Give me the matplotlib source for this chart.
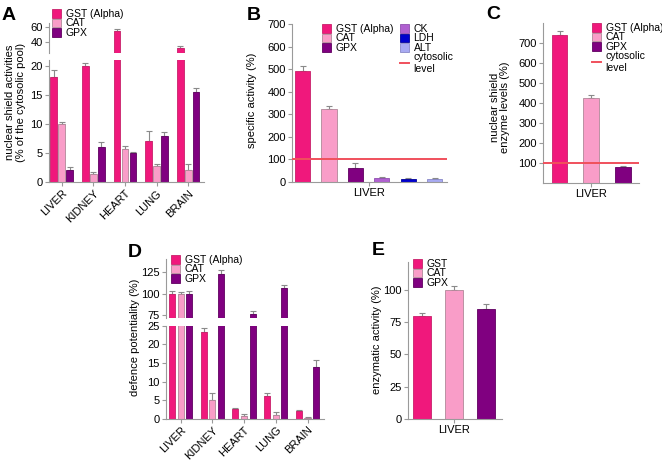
import numpy as np
import matplotlib
matplotlib.use('Agg')
import matplotlib.pyplot as plt
from matplotlib.patches import Patch
from matplotlib.lines import Line2D

plt.rcParams['font.family'] = ['Liberation Sans', 'DejaVu Sans']

# ---- data ----
organs = ['LIVER', 'KIDNEY', 'HEART', 'LUNG', 'BRAIN']
enzymes = ['GST (Alpha)', 'CAT', 'GPX']

# panel A: nuclear shield activities (% of cytosolic pool)
a_gst = [18, 20, 55, 7, 32]
a_gst_err = [1.2, 0.5, 2.3, 1.7, 2.0]
a_cat = [10, 1.3, 5.6, 2.7, 2.1]
a_cat_err = [0.3, 0.4, 0.6, 0.4, 1.0]
a_gpx = [2, 6, 5, 8, 15.5]
a_gpx_err = [0.6, 0.9, 0.2, 0.6, 0.7]

# panel B: specific activity, liver
b_labels = ['GST (Alpha)', 'CAT', 'GPX', 'CK', 'LDH', 'ALT']
b_vals = [490, 325, 60, 17, 14, 15]
b_err = [22, 12, 25, 4, 3, 3]

# panel C: nuclear shield enzyme levels, liver
c_vals = [740, 425, 78]
c_err = [22, 13, 8]

# panel D: defence potentiality
d_gst = [100, 23.2, 2.6, 6.1, 2.0]
d_gst_err = [3, 1.1, 0.4, 0.7, 0.3]
d_cat = [100, 5.0, 0.7, 1.0, 0.3]
d_cat_err = [2.5, 2.0, 0.6, 0.7, 0.2]
d_gpx = [100, 123, 77, 107, 14]
d_gpx_err = [3.5, 4.5, 2.5, 3.5, 1.8]

# panel E: enzymatic activity, liver
e_labels = ['GST', 'CAT', 'GPX']
e_vals = [80, 100, 85]
e_err = [2.5, 3, 4.5]

cytosolic = 100

# ---- colours ----
C_GST = '#F0187C'
C_CAT = '#F99DC8'
C_GPX = '#800080'
C_CK = '#B060D0'
C_LDH = '#0000CC'
C_ALT = '#A8AAF2'
C_LINE = '#F0505C'
EDGES = {C_GST: '#C8206A', C_CAT: '#B08898', C_GPX: '#600060',
         C_CK: '#9050B0', C_LDH: '#000099', C_ALT: '#8888C8'}
SPINE = '#9A9A9A'
FS = 8
LFS = 7.5

fig = plt.figure(figsize=(6.62, 4.62), dpi=100)


def px(x0, y0, x1, y1):
    # pixel box -> figure fraction rect
    W, H = 662, 462
    return [x0 / W, 1 - y1 / H, (x1 - x0) / W, (y1 - y0) / H]


def style(ax, bottom=True):
    for s in ['top', 'right']:
        ax.spines[s].set_visible(False)
    ax.spines['left'].set_color(SPINE)
    ax.spines['bottom'].set_color(SPINE)
    ax.spines['left'].set_linewidth(0.8)
    ax.spines['bottom'].set_linewidth(0.8)
    if not bottom:
        ax.spines['bottom'].set_visible(False)
        ax.tick_params(axis='x', bottom=False, labelbottom=False)
    ax.tick_params(direction='out', length=3, width=0.8, color=SPINE,
                   labelsize=FS, pad=1.5)


def bars(ax, x, vals, errs, color, width):
    ax.bar(x, vals, width, color=color, edgecolor=EDGES[color],
           linewidth=0.6, zorder=2)
    ax.errorbar(x, vals, yerr=[np.zeros(len(errs)), errs], fmt='none',
                ecolor='#8A8A8A', elinewidth=0.8, capsize=2.2,
                capthick=0.8, zorder=1)


def handles(cols, names):
    return [Patch(facecolor=c, edgecolor=EDGES[c], linewidth=0.6, label=n)
            for c, n in zip(cols, names)]


def legend(ax, hs, x, y):
    lg = ax.legend(handles=hs, loc='upper left', bbox_to_anchor=(x, y),
                   bbox_transform=fig.transFigure, frameon=False,
                   fontsize=LFS, handlelength=0.9, handleheight=0.85,
                   labelspacing=-0.05, borderpad=0, borderaxespad=0,
                   handletextpad=0.4)
    return lg


# ---------- A ----------
xa = np.arange(len(organs))
axA_lo = fig.add_axes(px(49, 60, 204, 182))
axA_hi = fig.add_axes(px(49, 23, 204, 53))
for ax in (axA_lo, axA_hi):
    bars(ax, xa - 0.25, a_gst, a_gst_err, C_GST, 0.21)
    bars(ax, xa, a_cat, a_cat_err, C_CAT, 0.21)
    bars(ax, xa + 0.25, a_gpx, a_gpx_err, C_GPX, 0.21)
    ax.set_xlim(-0.4, 4.5)
axA_lo.set_ylim(0, 21)
axA_lo.set_yticks([0, 5, 10, 15, 20])
axA_hi.set_ylim(25, 65)
axA_hi.set_yticks([40, 60])
style(axA_lo)
style(axA_hi, bottom=False)
axA_lo.set_xticks(xa)
axA_lo.set_xticklabels(organs, rotation=45, ha='right', rotation_mode='anchor')
legend(axA_hi, handles([C_GST, C_CAT, C_GPX], enzymes), 52 / 662, 1 - 9 / 462)
fig.text(0.024, 0.779, 'nuclear shield activities\n(% of the cytosolic pool)',
         rotation=90, ha='center', va='center', fontsize=FS, linespacing=1.1)

# ---------- B ----------
xb = np.arange(len(b_labels))
b_cols = [C_GST, C_CAT, C_GPX, C_CK, C_LDH, C_ALT]
axB = fig.add_axes(px(292, 24, 447, 182))
for i in range(len(b_vals)):
    bars(axB, [xb[i]], [b_vals[i]], [b_err[i]], b_cols[i], 0.58)
axB.axhline(cytosolic, color=C_LINE, lw=1.4, zorder=3)
axB.set_xlim(-0.4, 5.47)
axB.set_ylim(0, 700)
axB.set_yticks(range(0, 701, 100))
axB.set_xticks([2.5])
axB.set_xticklabels(['LIVER'])
style(axB)
lg1 = legend(axB, handles(b_cols[:3], b_labels[:3]), 322 / 662, 1 - 24 / 462)
axB.add_artist(lg1)
hb2 = handles(b_cols[3:], b_labels[3:]) + [
    Line2D([], [], color=C_LINE, lw=1.4, label='cytosolic\nlevel')]
legend(axB, hb2, 400 / 662, 1 - 24 / 462)
fig.text(252 / 662, 1 - 100 / 462, 'specific activity (%)', rotation=90,
         ha='center', va='center', fontsize=FS)

# ---------- C ----------
xc = np.arange(3)
c_cols = [C_GST, C_CAT, C_GPX]
axC = fig.add_axes(px(543, 23, 639, 182.7))
for i in range(3):
    bars(axC, [xc[i]], [c_vals[i]], [c_err[i]], c_cols[i], 0.5)
axC.axhline(cytosolic, color=C_LINE, lw=1.4, zorder=3)
axC.set_xlim(-0.52, 2.5)
axC.set_ylim(0, 800)
axC.set_yticks(range(100, 701, 100))
axC.set_xticks([1])
axC.set_xticklabels(['LIVER'])
style(axC)
hc = handles(c_cols, enzymes) + [
    Line2D([], [], color=C_LINE, lw=1.4, label='cytosolic\nlevel')]
legend(axC, hc, 592 / 662, 1 - 23 / 462)
fig.text(500 / 662, 1 - 107 / 462, 'nuclear shield\nenzyme levels (%)',
         rotation=90, ha='center', va='center', fontsize=FS, linespacing=1.1)

# ---------- D ----------
xd = np.arange(len(organs))
axD_lo = fig.add_axes(px(166, 325.7, 324, 418.7))
axD_hi = fig.add_axes(px(166, 259, 324, 318))
for ax in (axD_lo, axD_hi):
    bars(ax, xd - 0.27, d_gst, d_gst_err, C_GST, 0.19)
    bars(ax, xd, d_cat, d_cat_err, C_CAT, 0.19)
    bars(ax, xd + 0.27, d_gpx, d_gpx_err, C_GPX, 0.19)
    ax.set_xlim(-0.46, 4.52)
axD_lo.set_ylim(0, 25)
axD_lo.set_yticks([0, 5, 10, 15, 20, 25])
axD_hi.set_ylim(72, 140)
axD_hi.set_yticks([75, 100, 125])
style(axD_lo)
style(axD_hi, bottom=False)
axD_lo.set_xticks(xd)
axD_lo.set_xticklabels(organs, rotation=45, ha='right', rotation_mode='anchor')
legend(axD_hi, handles([C_GST, C_CAT, C_GPX], enzymes), 171 / 662, 1 - 255 / 462)
fig.text(135 / 662, 1 - 337 / 462, 'defence potentiality (%)', rotation=90,
         ha='center', va='center', fontsize=FS)

# ---------- E ----------
xe = np.arange(3)
axE = fig.add_axes(px(408, 261.7, 502, 418.7))
for i in range(3):
    bars(axE, [xe[i]], [e_vals[i]], [e_err[i]], c_cols[i], 0.56)
axE.set_xlim(-0.45, 2.5)
axE.set_ylim(0, 122)
axE.set_yticks([0, 25, 50, 75, 100])
axE.set_xticks([1])
axE.set_xticklabels(['LIVER'])
style(axE)
legend(axE, handles(c_cols, e_labels), 413 / 662, 1 - 259 / 462)
fig.text(377 / 662, 1 - 340 / 462, 'enzymatic activity (%)', rotation=90,
         ha='center', va='center', fontsize=FS)

# ---------- panel letters ----------
for lab, x, y in [('A', 2, 20), ('B', 247, 20), ('C', 486, 19),
                  ('D', 128, 257), ('E', 372, 255)]:
    fig.text(x / 662, 1 - y / 462, lab, fontsize=14, fontweight='bold',
             va='baseline', ha='left')

fig.savefig('out.png', dpi=100)
